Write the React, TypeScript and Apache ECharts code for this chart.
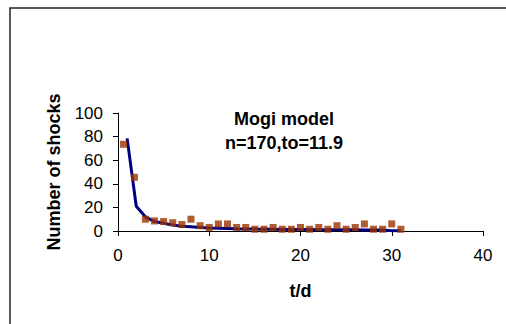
import React, { useEffect, useRef } from "react";
import * as echarts from "echarts";

const obsT = [0.6, 1.8, 3, 4, 5, 6, 7, 8, 9, 10, 11, 12, 13, 14, 15, 16, 17, 18, 19, 20, 21, 22, 23, 24, 25, 26, 27, 28, 29, 30, 31];
const obsN = [73.5, 45.5, 10, 8.5, 8, 7, 5.5, 10, 4.5, 3, 6, 6, 3, 3, 1.5, 1.5, 3, 1.5, 1.5, 3, 1.5, 3, 1.5, 4.5, 1.5, 3, 6, 1.5, 1.5, 6, 1.5];
const modelT = [1, 2, 3, 4, 5, 6, 7, 8, 9, 10, 11, 12, 13, 14, 15, 16, 17, 18, 19, 20, 21, 22, 23, 24, 25, 26, 27, 28, 29, 30, 31];
const modelN = [78.5, 21, 12, 8, 6.5, 5, 4, 3.5, 3, 2.5, 2.3, 2.1, 1.9, 1.8, 1.6, 1.5, 1.4, 1.3, 1.3, 1.2, 1.2, 1.1, 1.1, 1.0, 1.0, 1.0, 0.9, 0.9, 0.8, 0.3, 0.2];
const xTicks = [0, 10, 20, 30, 40];
const yTicks = [0, 20, 40, 60, 80, 100];

export default function App() {
  const ref = useRef<HTMLDivElement>(null);
  useEffect(() => {
    if (!ref.current) return;
    const chart = echarts.init(ref.current, null, { renderer: "svg" });
    const font = "'Liberation Sans', Arial, sans-serif";
    chart.setOption({
      animation: false,
      backgroundColor: "#ffffff",
      grid: { left: 118, right: 23, top: 113, bottom: 93 },
      xAxis: {
        type: "value",
        min: xTicks[0],
        max: xTicks[xTicks.length - 1],
        interval: 10,
        name: "t/d",
        nameLocation: "middle",
        nameGap: 51,
        nameTextStyle: { fontFamily: font, fontSize: 18, fontWeight: "bold", color: "#000" },
        axisLine: { show: true, lineStyle: { color: "#000", width: 1 } },
        axisTick: { show: true, length: 5, lineStyle: { color: "#000" } },
        axisLabel: { fontFamily: font, fontSize: 17, color: "#000", margin: 16 },
        splitLine: { show: false },
      },
      yAxis: {
        type: "value",
        min: yTicks[0],
        max: yTicks[yTicks.length - 1],
        interval: 20,
        name: "Number of shocks",
        nameLocation: "middle",
        nameGap: 55,
        nameRotate: 90,
        nameTextStyle: { fontFamily: font, fontSize: 18, fontWeight: "bold", color: "#000" },
        axisLine: { show: true, lineStyle: { color: "#000", width: 1 } },
        axisTick: { show: true, length: 5, lineStyle: { color: "#000" } },
        axisLabel: { fontFamily: font, fontSize: 17, color: "#000", margin: 15 },
        splitLine: { show: false },
      },
      graphic: [
        {
          type: "rect",
          shape: { x: 10, y: 8, width: 600, height: 400 },
          style: { fill: "none", stroke: "#222", lineWidth: 1.5 },
          silent: true,
        },
        {
          type: "text",
          x: 284,
          y: 119,
          style: {
            text: "Mogi model",
            font: "bold 18px 'Liberation Sans', Arial, sans-serif",
            fill: "#000",
            align: "center",
            verticalAlign: "middle",
          },
        },
        {
          type: "text",
          x: 284,
          y: 143,
          style: {
            text: "n=170,to=11.9",
            font: "bold 18px 'Liberation Sans', Arial, sans-serif",
            fill: "#000",
            align: "center",
            verticalAlign: "middle",
          },
        },
      ],
      series: [
        {
          type: "line",
          data: modelT.map((t, i) => [t, modelN[i]]),
          showSymbol: false,
          symbol: "none",
          lineStyle: { color: "#000080", width: 3 },
          z: 2,
        },
        {
          type: "scatter",
          data: obsT.map((t, i) => [t, obsN[i]]),
          symbol: "rect",
          symbolSize: 7,
          itemStyle: { color: "#993300" },
          z: 3,
        },
      ],
    });
    return () => chart.dispose();
  }, []);
  return (
    <div
      ref={ref}
      style={{ position: "fixed", left: 0, top: 0, width: 506, height: 324, background: "#fff" }}
    />
  );
}
